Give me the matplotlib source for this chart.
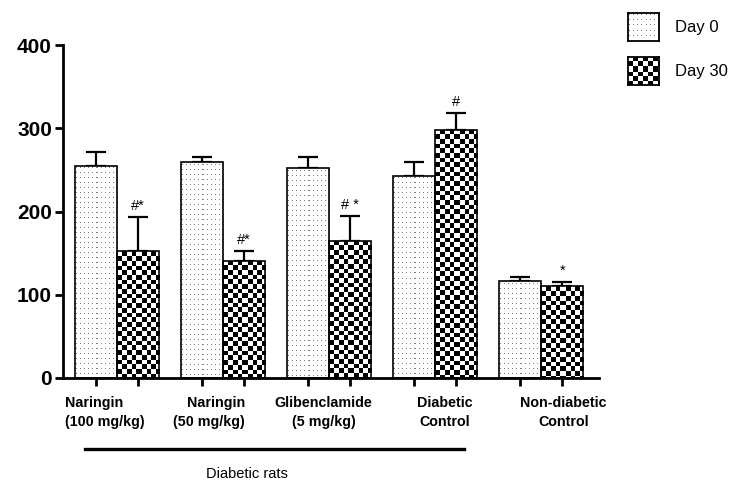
import numpy as np
import matplotlib
matplotlib.use("Agg")
import matplotlib.pyplot as plt
import matplotlib.transforms as mtransforms

plt.rcParams['font.family'] = ['Liberation Sans', 'DejaVu Sans']

groups = ["Naringin\n(100 mg/kg)", "Naringin\n(50 mg/kg)", "Glibenclamide\n(5 mg/kg)",
          "Diabetic\nControl", "Non-diabetic\nControl"]
series = ["Day 0", "Day 30"]
day0 = [255, 259, 252, 243, 116]
day0_err = [17, 6, 14, 17, 5]
day30 = [152, 141, 165, 298, 110]
day30_err = [41, 11, 30, 20, 5]
day30_marks = ["#*", "#*", "# *", "#", "*"]
yticks = [0, 100, 200, 300, 400]
bracket_label = "Diabetic rats"


def dots(h, w):
    img = np.ones((h, w, 3))
    yy, xx = np.mgrid[0:h, 0:w]
    mask = (yy % 5 == 2) & (xx % 4 == 1)
    img[mask] = 0.5
    return img


def checker(h, w, cell=4.7):
    yy, xx = np.mgrid[0:h, 0:w]
    on = ((np.floor(yy / cell) + np.floor(xx / cell)) % 2).astype(bool)
    img = np.ones((h, w, 3))
    img[on] = 0.0
    return img


def fill_texture(ax, patch, pattern):
    bb = patch.get_window_extent()
    h, w = max(int(round(bb.height)), 1), max(int(round(bb.width)), 1)
    x0, y0 = patch.get_x(), patch.get_y()
    im = ax.imshow(pattern(h, w), extent=(x0, x0 + patch.get_width(), y0, y0 + patch.get_height()),
                   interpolation='nearest', aspect='auto', zorder=2)
    im.set_clip_path(patch)


fig = plt.figure(figsize=(7.51, 4.83), dpi=100)
ax = fig.add_axes([0.0839, 0.2174, 0.7137, 0.6894])
ax.set_xlim(-0.509, 4.547)
ax.set_ylim(0, 400)
ax.set_autoscale_on(False)

x = np.arange(len(groups))
bw = 0.4
b0 = ax.bar(x - bw / 2, day0, bw, facecolor='none', edgecolor='black', linewidth=1.2, zorder=3)
b1 = ax.bar(x + bw / 2, day30, bw, facecolor='none', edgecolor='black', linewidth=1.2, zorder=3)
for p in b0:
    fill_texture(ax, p, dots)
for p in b1:
    fill_texture(ax, p, checker)

ax.errorbar(x - bw / 2, day0, yerr=[np.zeros(len(x)), day0_err], fmt='none', ecolor='black',
            elinewidth=1.6, capsize=7.5, capthick=1.6, zorder=1)
ax.errorbar(x + bw / 2, day30, yerr=[np.zeros(len(x)), day30_err], fmt='none', ecolor='black',
            elinewidth=1.6, capsize=7.5, capthick=1.6, zorder=1)

for xi, v, e, m in zip(x + bw / 2, day30, day30_err, day30_marks):
    ax.annotate(m, (xi, v + e), xytext=(0, 3), textcoords='offset points',
                ha='center', va='bottom', fontsize=10.5)

for s in ['top', 'right']:
    ax.spines[s].set_visible(False)
for s in ['left', 'bottom']:
    ax.spines[s].set_linewidth(2.0)

ax.set_xticks(np.concatenate([x - bw / 2, x + bw / 2]))
ax.set_xticklabels([])
ax.set_yticks(yticks)
ax.set_yticklabels([str(t) for t in yticks], fontsize=15, fontweight='bold')
ax.tick_params(axis='both', direction='out', length=6, width=2.0)
ax.tick_params(axis='y', pad=2)

# group labels under the axis
trans = mtransforms.blended_transform_factory(ax.transData, fig.transFigure)
label_dx = [-0.11, -0.13, -0.05, 0.09, 0.21]
label_align = ['left', 'right', 'center', 'center', 'center']
for xi, dx, name, al in zip(x, label_dx, groups, label_align):
    ax.text(xi + dx, 0.180, name, transform=trans, ha='center', va='top', fontsize=10.3,
            fontweight='bold', multialignment=al, linespacing=1.42)

# bracket for the diabetic groups
ax.plot([-0.30, 3.27], [0.0704, 0.0704], color='black', linewidth=2.4, transform=trans, clip_on=False)
ax.text(1.23, 0.019, bracket_label, transform=trans, ha='center', va='center', fontsize=10.5)

# legend swatches
for i, (name, pattern) in enumerate(zip(series, [dots, checker])):
    lax = fig.add_axes([0.836, 0.915 - i * 0.091, 0.0413, 0.058])
    bb = lax.get_window_extent()
    lax.imshow(pattern(int(round(bb.height)), int(round(bb.width))), interpolation='nearest', aspect='auto')
    lax.set_xticks([])
    lax.set_yticks([])
    for sp in lax.spines.values():
        sp.set_linewidth(1.3)
    fig.text(0.899, 0.944 - i * 0.091, name, ha='left', va='center', fontsize=12)

fig.savefig("out.png", dpi=100)
